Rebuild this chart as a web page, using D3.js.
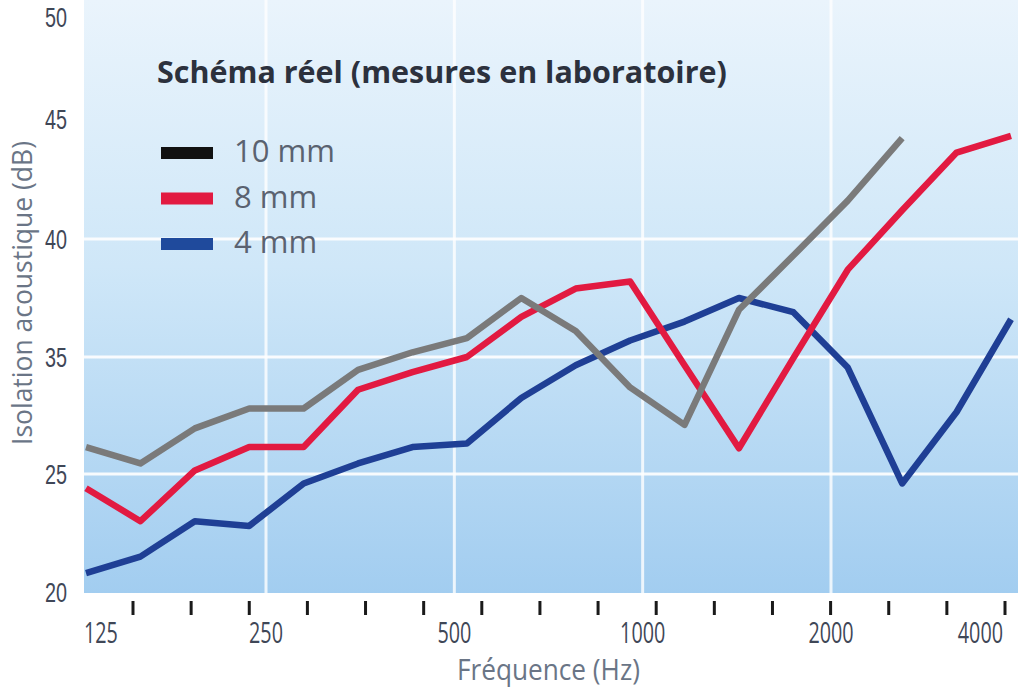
<!DOCTYPE html>
<html lang="fr">
<head>
    <meta charset="UTF-8">
    <title>Schéma réel (mesures en laboratoire)</title>
    <script src="https://d3js.org/d3.v7.min.js"></script>
    <style>
        body { margin: 0; background: #fff; }
        svg text { font-family: "Open Sans", "Noto Sans", sans-serif; }
        svg text.ytick { font-family: "Liberation Sans", Arial, sans-serif; }
    </style>
</head>
<body>
    <div id="chart"></div>
    <script>
        // third-octave bands where the curves are measured (index = position)
        const bands = [100, 125, 160, 200, 250, 315, 400, 500, 630, 800, 1000, 1250, 1600, 2000, 2500, 3150, 4000, 5000];
        const tickBands = [160, 200, 250, 315, 400, 500, 630, 800, 1000, 1250, 1600, 2000, 2500, 3150, 4000, 5000];
        const freqLabels = [125, 250, 500, 1000, 2000, 4000];
        const gridFreqs = [250, 500, 1000, 2000];
        const yTicks = [20, 25, 35, 40, 45, 50];
        const yGrid = [25, 35, 40];

        // Isolation acoustique (dB)
        const iso10mm = [27.3, 25.9, 28.9, 30.6, 30.6, 33.9, 35.2, 35.8, 37.5, 36.1, 32.4, 29.2, 37.0, 39.3, 41.6, 44.2];
        const iso8mm = [24.4, 23.0, 25.3, 27.3, 27.3, 32.2, 33.7, 35.0, 36.7, 37.9, 38.2, 34.3, 27.2, 34.9, 38.7, 41.2, 43.6, 44.3];
        const iso4mm = [20.8, 21.5, 23.0, 22.8, 24.6, 25.9, 27.3, 27.6, 31.5, 34.3, 35.7, 36.5, 37.5, 36.9, 34.1, 24.6, 30.3, 36.6];

        const seriesNames = ["10 mm", "8 mm", "4 mm"];

        const width = 1018;
        const height = 691;
        const left = 84, bottom = 593;

        const svg = d3.select("#chart").append("svg")
            .attr("width", width)
            .attr("height", height);

        const x = d3.scaleLinear().domain([0, bands.length - 1]).range([86, 1011]);
        const xTick = d3.scaleLinear().domain([0, tickBands.length - 1]).range([133, 1005]);
        const xFreq = d3.scaleLog().base(2).domain([250, 2000]).range([266, 831]);
        const y = d3.scaleLinear().domain(yTicks).range([592, 474, 357, 239, 119, 17]);

        // squeeze a text horizontally to a given width (the source font is condensed)
        function squeeze(sel, w) {
            sel.each(function (d, i) {
                const t = d3.select(this);
                const target = typeof w === "function" ? w(d, i) : w;
                const natural = this.getComputedTextLength();
                t.attr("transform", `${t.attr("transform") || ""} scale(${target / natural},1)`);
            });
        }

        // background gradient
        const grad = svg.append("defs").append("linearGradient")
            .attr("id", "bg").attr("x1", 0).attr("y1", 0).attr("x2", 0).attr("y2", 1);
        grad.append("stop").attr("offset", "0%").attr("stop-color", "#eaf4fc");
        grad.append("stop").attr("offset", "45%").attr("stop-color", "#cfe7f8");
        grad.append("stop").attr("offset", "100%").attr("stop-color", "#a2cdf0");

        svg.append("rect")
            .attr("x", left).attr("y", 0)
            .attr("width", width - left).attr("height", bottom)
            .attr("fill", "url(#bg)");

        // grid
        svg.append("g").selectAll("line")
            .data(yGrid)
            .enter().append("line")
            .attr("x1", left).attr("x2", width)
            .attr("y1", d => y(d)).attr("y2", d => y(d))
            .attr("stroke", "#fff").attr("stroke-width", 3).attr("opacity", 0.9);

        svg.append("g").selectAll("line")
            .data(gridFreqs)
            .enter().append("line")
            .attr("x1", d => xFreq(d)).attr("x2", d => xFreq(d))
            .attr("y1", 0).attr("y2", bottom)
            .attr("stroke", "#fff").attr("stroke-width", 3).attr("opacity", 0.8);

        // tick marks under the plot
        svg.append("g").selectAll("line")
            .data(tickBands)
            .enter().append("line")
            .attr("x1", (d, i) => xTick(i)).attr("x2", (d, i) => xTick(i))
            .attr("y1", 601).attr("y2", 615)
            .attr("stroke", "#1a1a1a").attr("stroke-width", 3);

        // x labels
        const lastLab = freqLabels.length - 1;
        svg.append("g").selectAll("text")
            .data(freqLabels)
            .enter().append("text")
            .attr("transform", (d, i) => `translate(${i === 0 ? left : i === lastLab ? width - 15 : xFreq(d)},643)`)
            .attr("text-anchor", (d, i) => i === 0 ? "start" : i === lastLab ? "end" : "middle")
            .attr("font-size", 30)
            .attr("fill", "#3f4757")
            .text(d => d)
            .call(squeeze, d => String(d).length * 11.3);

        // y labels
        svg.append("g").selectAll("text")
            .data(yTicks)
            .enter().append("text")
            .attr("class", "ytick")
            .attr("transform", d => `translate(56,${y(d) + 10})`)
            .attr("text-anchor", "middle")
            .attr("font-size", 27)
            .attr("fill", "#3f4757")
            .text(d => d)
            .call(squeeze, 22);

        // axis titles
        svg.append("text")
            .attr("transform", "translate(457,680)")
            .attr("font-size", 30)
            .attr("fill", "#6a7586")
            .text("Fréquence (Hz)")
            .call(squeeze, 183);

        svg.append("text")
            .attr("transform", "translate(32,293) rotate(-90)")
            .attr("text-anchor", "middle")
            .attr("font-size", 28)
            .attr("fill", "#6a7586")
            .text("Isolation acoustique (dB)")
            .call(squeeze, 304);

        // curves
        const line = d3.line()
            .x((d, i) => x(i))
            .y(d => y(d));

        const curves = [
            { values: iso4mm, color: "#1f3f95" },
            { values: iso8mm, color: "#e21a41" },
            { values: iso10mm, color: "#7a7a7a" }
        ];

        svg.append("g").selectAll("path")
            .data(curves)
            .enter().append("path")
            .attr("d", d => line(d.values))
            .attr("fill", "none")
            .attr("stroke", d => d.color)
            .attr("stroke-width", 6.5)
            .attr("stroke-linejoin", "round");

        // title
        svg.append("text")
            .attr("transform", "translate(157,83)")
            .attr("font-size", 30)
            .attr("font-weight", "bold")
            .attr("fill", "#2c313d")
            .text("Schéma réel (mesures en laboratoire)")
            .call(squeeze, 570);

        // legend
        const legendColors = ["#111111", "#e21a41", "#1f4a9c"];
        const legend = svg.append("g").selectAll("g")
            .data(seriesNames)
            .enter().append("g")
            .attr("transform", (d, i) => `translate(161,${153 + i * 45.5})`);

        legend.append("rect")
            .attr("x", 0).attr("y", -6)
            .attr("width", 52).attr("height", 12)
            .attr("fill", (d, i) => legendColors[i]);

        legend.append("text")
            .attr("x", 73).attr("y", 9)
            .attr("font-size", 31)
            .attr("fill", "#5a6270")
            .text(d => d);
    </script>
</body>
</html>
